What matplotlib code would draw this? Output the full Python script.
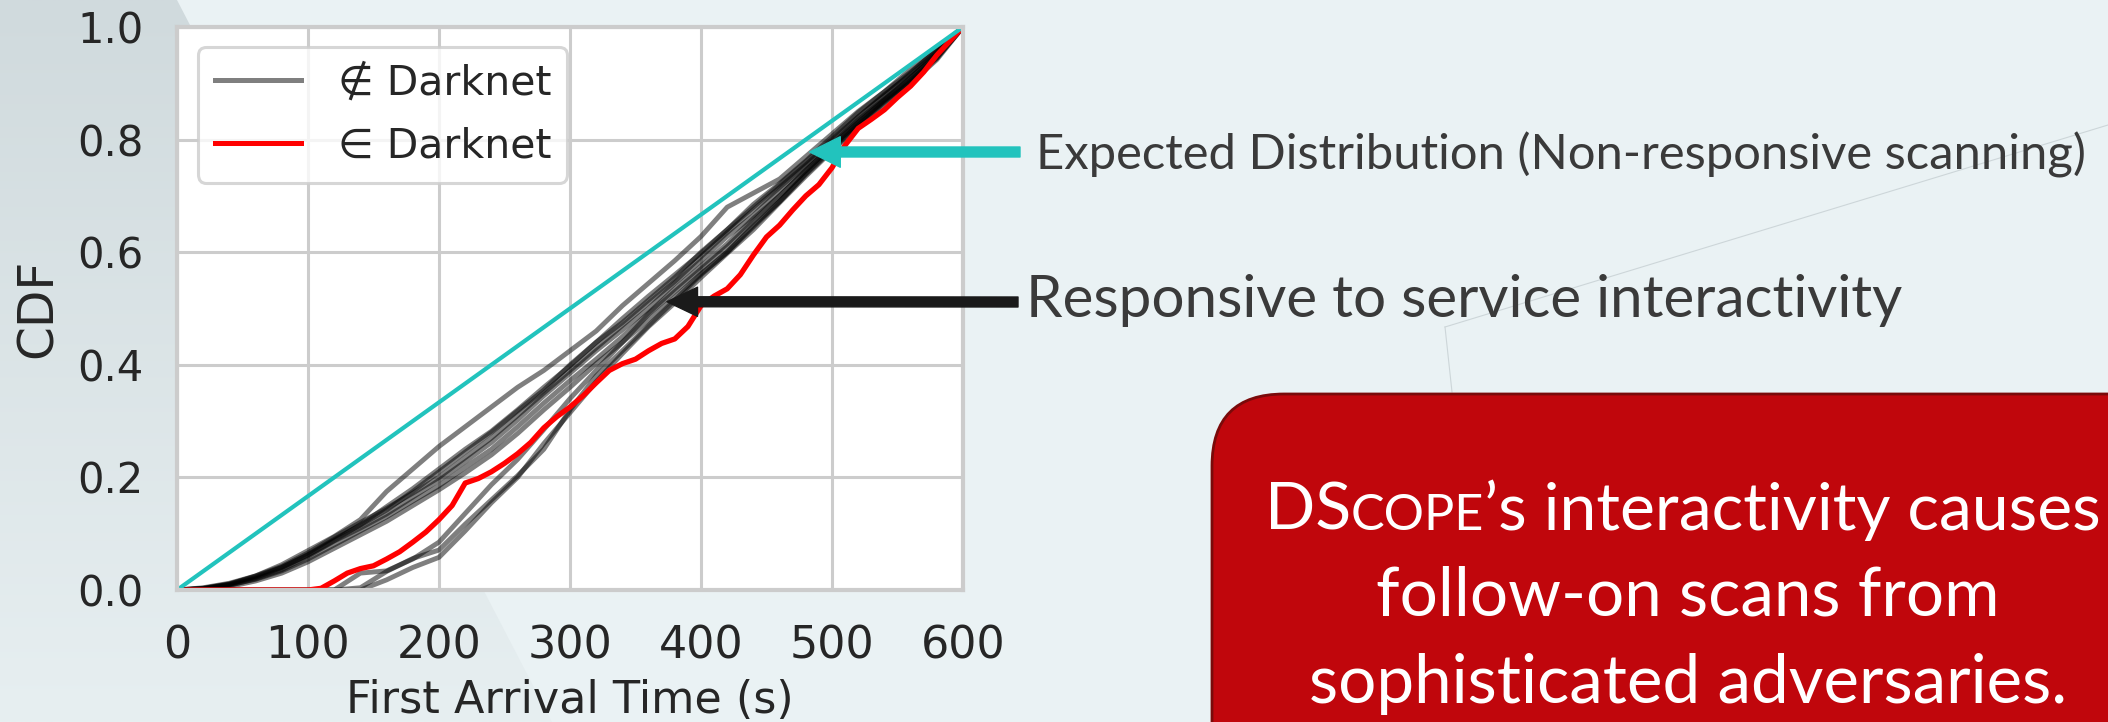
import numpy as np
import matplotlib.pyplot as plt
from matplotlib.patches import FancyBboxPatch, Polygon
from matplotlib.lines import Line2D
from matplotlib.colors import LinearSegmentedColormap
from matplotlib.transforms import IdentityTransform
from matplotlib.offsetbox import TextArea, HPacker, AnnotationBbox

# ---- data ----
# first-arrival CDFs of the scanners not in the darknet (sampled every 20 s)
t_grid = list(range(0, 601, 20))
run_a = [0, 0.002, 0.010, 0.025, 0.045, 0.070, 0.095, 0.125, 0.175, 0.215, 0.255, 0.290, 0.325, 0.360, 0.390,
         0.425, 0.460, 0.505, 0.545, 0.585, 0.628, 0.680, 0.705, 0.730, 0.770, 0.810, 0.850, 0.885, 0.925, 0.960, 1.0]
run_b = [0, 0.003, 0.010, 0.022, 0.040, 0.063, 0.090, 0.115, 0.142, 0.175, 0.210, 0.245, 0.280, 0.318, 0.355,
         0.400, 0.440, 0.475, 0.515, 0.555, 0.600, 0.640, 0.680, 0.720, 0.760, 0.800, 0.840, 0.880, 0.915, 0.955, 1.0]
run_c = [0, 0.002, 0.008, 0.020, 0.036, 0.060, 0.087, 0.110, 0.135, 0.165, 0.195, 0.228, 0.262, 0.302, 0.345,
         0.385, 0.425, 0.462, 0.500, 0.545, 0.585, 0.628, 0.665, 0.710, 0.752, 0.792, 0.835, 0.872, 0.910, 0.952, 1.0]
run_d = [0, 0.004, 0.012, 0.025, 0.042, 0.066, 0.094, 0.120, 0.145, 0.172, 0.200, 0.235, 0.270, 0.310, 0.350,
         0.390, 0.430, 0.470, 0.510, 0.548, 0.592, 0.635, 0.675, 0.715, 0.755, 0.798, 0.840, 0.878, 0.918, 0.960, 1.0]
run_e = [0, 0.002, 0.009, 0.019, 0.034, 0.055, 0.080, 0.105, 0.130, 0.158, 0.185, 0.218, 0.250, 0.290, 0.332,
         0.372, 0.410, 0.450, 0.492, 0.535, 0.575, 0.615, 0.660, 0.700, 0.745, 0.788, 0.830, 0.870, 0.905, 0.948, 1.0]
run_f = [0, 0.003, 0.011, 0.024, 0.040, 0.062, 0.088, 0.116, 0.148, 0.180, 0.215, 0.250, 0.282, 0.320, 0.360,
         0.398, 0.440, 0.482, 0.522, 0.560, 0.598, 0.640, 0.685, 0.722, 0.762, 0.805, 0.848, 0.885, 0.920, 0.958, 1.0]
run_g = [0, 0.001, 0.006, 0.016, 0.030, 0.050, 0.074, 0.098, 0.122, 0.150, 0.178, 0.208, 0.240, 0.278, 0.320,
         0.360, 0.402, 0.440, 0.480, 0.520, 0.562, 0.600, 0.648, 0.690, 0.738, 0.782, 0.825, 0.866, 0.902, 0.945, 1.0]
run_h = [0, 0, 0, 0, 0, 0, 0, 0.030, 0.034, 0.055, 0.085, 0.136, 0.187, 0.232, 0.285,
         0.340, 0.390, 0.440, 0.490, 0.530, 0.570, 0.610, 0.655, 0.700, 0.745, 0.790, 0.830, 0.870, 0.910, 0.950, 1.0]
run_i = [0, 0, 0, 0, 0, 0, 0, 0.004, 0.033, 0.056, 0.071, 0.117, 0.160, 0.203, 0.250,
         0.320, 0.380, 0.425, 0.470, 0.515, 0.560, 0.600, 0.645, 0.690, 0.740, 0.785, 0.828, 0.868, 0.905, 0.945, 1.0]
run_j = [0, 0, 0, 0, 0, 0, 0, 0, 0.018, 0.040, 0.058, 0.105, 0.155, 0.200, 0.260,
         0.315, 0.370, 0.420, 0.468, 0.510, 0.555, 0.598, 0.640, 0.688, 0.735, 0.780, 0.822, 0.862, 0.900, 0.942, 1.0]
outside_runs = [run_a, run_b, run_c, run_d, run_e, run_f, run_g, run_h, run_i, run_j]

# the darknet scanner (sampled every 10 s)
t_red = list(range(0, 601, 10))
darknet_cdf = [0, 0, 0, 0, 0, 0, 0, 0, 0, 0,
               0.000, 0.003, 0.016, 0.030, 0.038, 0.043, 0.055, 0.068, 0.085, 0.103,
               0.125, 0.150, 0.190, 0.198, 0.210, 0.225, 0.242, 0.262, 0.288, 0.308,
               0.325, 0.345, 0.368, 0.390, 0.402, 0.410, 0.425, 0.438, 0.446, 0.468,
               0.505, 0.522, 0.535, 0.560, 0.595, 0.627, 0.648, 0.675, 0.700, 0.720,
               0.750, 0.790, 0.820, 0.836, 0.853, 0.875, 0.895, 0.920, 0.950, 0.975, 1.0]

# uniform arrival = non-responsive scanning
expected_t = [0, 600]
expected_cdf = [0, 1]

xticks = [0, 100, 200, 300, 400, 500, 600]
yticks = [0.0, 0.2, 0.4, 0.6, 0.8, 1.0]

W, H = 2108, 722
TEAL = '#22c3bd'
TXT = '#262626'

fig = plt.figure(figsize=(W / 100, H / 100), dpi=100, facecolor='#eaf2f4')

# slide background: darker band on the left with a slanted edge
bg = fig.add_axes([0, 0, 1, 1], zorder=-10)
bg.set_xlim(0, W)
bg.set_ylim(H, 0)
bg.axis('off')
grad = np.linspace(0, 1, 256)[:, None]
cmap = LinearSegmentedColormap.from_list('slide', ['#d0dadd', '#e7eff1'])
im = bg.imshow(grad, cmap=cmap, extent=(0, 600, H, 0), aspect='auto')
band = Polygon([(0, 0), (177, 0), (552, H), (0, H)], closed=True, transform=bg.transData)
im.set_clip_path(band)
bg.plot([1445, 2108], [327, 125], color='#cdd6d9', lw=0.8)
bg.plot([1445, 1452], [327, 392], color='#cdd6d9', lw=0.8)

# ---- the chart ----
ax = fig.add_axes([177 / W, (H - 590) / H, (963 - 177) / W, (590 - 27) / H])
ax.set_facecolor('white')

for run in outside_runs:
    ax.plot(t_grid, run, color='black', alpha=0.5, lw=3.5)
ax.plot(t_red, darknet_cdf, color='red', lw=3.8)
ax.plot(expected_t, expected_cdf, color=TEAL, lw=3)

ax.set_xlim(0, 600)
ax.set_ylim(0, 1)
ax.set_xticks(xticks)
ax.set_yticks(yticks)
ax.set_yticklabels([f'{v:.1f}' for v in yticks])
ax.grid(True, color='#cccccc', lw=2.2)
ax.set_axisbelow(True)
for s in ax.spines.values():
    s.set_color('#cccccc')
    s.set_linewidth(3)
ax.tick_params(axis='both', length=0, colors=TXT)
ax.tick_params(axis='y', labelsize=30, pad=24)
ax.tick_params(axis='x', labelsize=32, pad=25)
ax.set_xlabel('First Arrival Time (s)', fontsize=32, color=TXT, labelpad=8)
ax.set_ylabel('CDF', fontsize=35, color=TXT, labelpad=11)

handles = [Line2D([], [], color='black', alpha=0.5, lw=3.6),
           Line2D([], [], color='red', lw=3.6)]
leg = ax.legend(handles, ['∉ Darknet', '∈ Darknet'], loc='upper left',
                bbox_to_anchor=(0.027, 0.964), borderaxespad=0, fontsize=29.5,
                handlelength=2.1, handletextpad=0.9, labelspacing=0.55, borderpad=0.4,
                framealpha=0.8, edgecolor='#cccccc', fancybox=True)
leg.get_frame().set_linewidth(2.2)
for txt in leg.get_texts():
    txt.set_color(TXT)

# ---- slide annotations ----
ax.annotate('', xy=(483, 0.778), xycoords='data', xytext=(1020, H - 152), textcoords='figure pixels',
            arrowprops=dict(arrowstyle='simple,head_length=1.1,head_width=1.1,tail_width=0.36',
                            mutation_scale=20, color=TEAL, shrinkA=0, shrinkB=0),
            annotation_clip=False, zorder=6)
ax.annotate('', xy=(374, 0.512), xycoords='data', xytext=(1018, H - 302), textcoords='figure pixels',
            arrowprops=dict(arrowstyle='simple,head_length=1.1,head_width=1.05,tail_width=0.36',
                            mutation_scale=20, color='#1a1a1a', shrinkA=0, shrinkB=0),
            annotation_clip=False, zorder=6)

fig.text(1036 / W, (H - 170) / H, 'Expected Distribution (Non-responsive scanning)',
         fontsize=35.3, family='Lato', color='#3a3a3a', va='baseline')
fig.text(1026 / W, (H - 317) / H, 'Responsive to service interactivity',
         fontsize=42, family='Lato', color='#3a3a3a', va='baseline')

# red call-out box running off the slide edge
box = FancyBboxPatch((1212, -150), 1100, (H - 394) + 150,
                     boxstyle='round,pad=0,rounding_size=72',
                     facecolor='#c0060c', edgecolor='#7a0a0a', lw=2,
                     transform=IdentityTransform())
fig.add_artist(box)

big = dict(color='white', fontsize=48.5, family='Lato')
big1 = dict(color='white', fontsize=47.6, family='Lato')
small1 = dict(color='white', fontsize=36.3, family='Lato')
line1 = HPacker(children=[TextArea('DS', textprops=big1), TextArea('COPE', textprops=small1),
                          TextArea('’s interactivity causes', textprops=big1)],
                align='baseline', pad=0, sep=0)
ab = AnnotationBbox(line1, (1683, H - 541), xycoords='figure pixels', box_alignment=(0.5, 0),
                    frameon=False, pad=0)
fig.add_artist(ab)
fig.text(1688 / W, (H - 616) / H, 'follow-on scans from', ha='center', va='baseline', **big)
fig.text(1688 / W, (H - 703) / H, 'sophisticated adversaries.', ha='center', va='baseline', **big)

fig.savefig('out.png', dpi=100, facecolor=fig.get_facecolor())
